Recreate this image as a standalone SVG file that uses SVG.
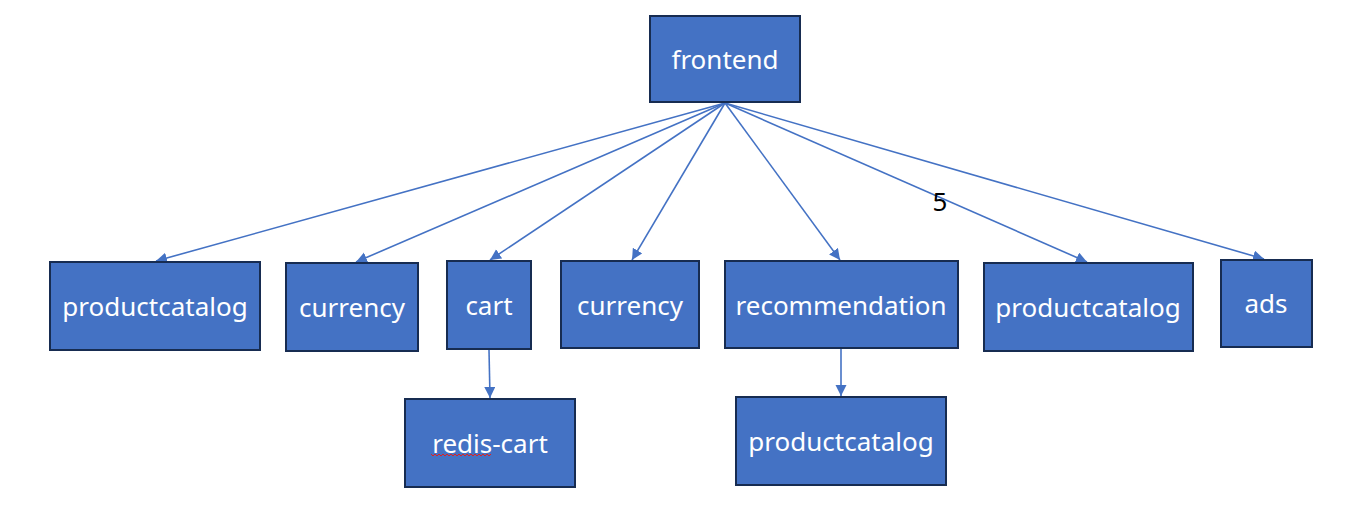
<svg xmlns="http://www.w3.org/2000/svg" width="1367" height="522" viewBox="0 0 1367 522">
<style>
.box{fill:#4472c4;stroke:#172c51;stroke-width:2}
.lbl{fill:#ffffff;font-family:"Noto Sans","Open Sans","DejaVu Sans",sans-serif;font-size:26px;text-anchor:middle}
.edge{stroke:#4472c4;stroke-width:1.6;fill:none;marker-end:url(#ah)}
.num{fill:#000000;font-family:"Noto Sans","Open Sans","DejaVu Sans",sans-serif;font-size:26px;text-anchor:middle}
</style>
<defs>
<marker id="ah" markerUnits="userSpaceOnUse" markerWidth="12" markerHeight="12" refX="11" refY="5.5" orient="auto">
<path d="M0,0 L11,5.5 L0,11 z" fill="#4472c4"/>
</marker>
</defs>
<rect width="1367" height="522" fill="#ffffff"/>
<g id="connectors">
<line class="edge" x1="725" y1="103" x2="156" y2="261"/>
<line class="edge" x1="725" y1="103" x2="356" y2="262"/>
<line class="edge" x1="725" y1="103" x2="490" y2="260"/>
<line class="edge" x1="725" y1="103" x2="632" y2="260"/>
<line class="edge" x1="725" y1="103" x2="840" y2="260"/>
<line class="edge" x1="725" y1="103" x2="1087" y2="262"/>
<line class="edge" x1="725" y1="103" x2="1264" y2="259"/>
<line class="edge" x1="489" y1="350" x2="490" y2="398"/>
<line class="edge" x1="841" y1="349" x2="841" y2="396"/>
<text class="num" x="940" y="211">5</text>
</g>
<g id="frontend"><rect class="box" x="650" y="16" width="150" height="86"/><text class="lbl" x="725" y="69">frontend</text></g>
<g id="productcatalog1"><rect class="box" x="50" y="262" width="210" height="88"/><text class="lbl" x="155" y="316">productcatalog</text></g>
<g id="currency1"><rect class="box" x="286" y="263" width="132" height="88"/><text class="lbl" x="352" y="317">currency</text></g>
<g id="cart"><rect class="box" x="447" y="261" width="84" height="88"/><text class="lbl" x="489" y="315">cart</text></g>
<g id="currency2"><rect class="box" x="561" y="261" width="138" height="87"/><text class="lbl" x="630" y="315">currency</text></g>
<g id="recommendation"><rect class="box" x="725" y="261" width="233" height="87"/><text class="lbl" x="841" y="315">recommendation</text></g>
<g id="productcatalog2"><rect class="box" x="984" y="263" width="209" height="88"/><text class="lbl" x="1088" y="317">productcatalog</text></g>
<g id="ads"><rect class="box" x="1221" y="260" width="91" height="87"/><text class="lbl" x="1266" y="313">ads</text></g>
<g id="redis-cart"><rect class="box" x="405" y="399" width="170" height="88"/><text class="lbl" x="490" y="453">redis-cart</text>
<polyline points="431,454 433,456 435,454 437,456 439,454 441,456 443,454 445,456 447,454 449,456 451,454 453,456 455,454 457,456 459,454 461,456 463,454 465,456 467,454 469,456 471,454 473,456 475,454 477,456 479,454 481,456 483,454 485,456 487,454 489,456 491,454" fill="none" stroke="#e02020" stroke-width="1"/></g>
<g id="productcatalog3"><rect class="box" x="736" y="397" width="210" height="88"/><text class="lbl" x="841" y="451">productcatalog</text></g>
</svg>
